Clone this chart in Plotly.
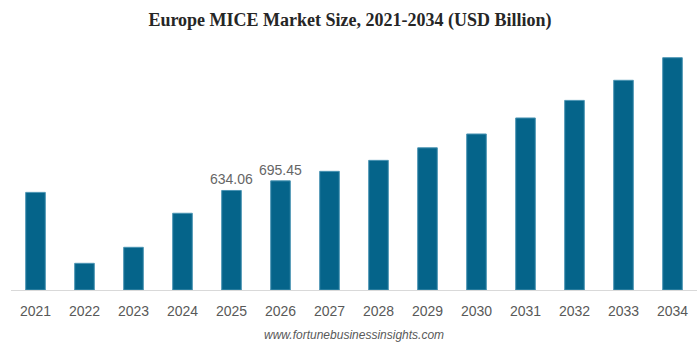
import plotly.graph_objects as go

years = ["2021", "2022", "2023", "2024", "2025", "2026", "2027",
         "2028", "2029", "2030", "2031", "2032", "2033", "2034"]
values = [622, 170, 272, 489, 634.06, 695.45, 756,
          826, 906, 994, 1096, 1208, 1336, 1480]
labels = ["", "", "", "", "634.06", "695.45", "", "", "", "", "", "", "", ""]

fig = go.Figure()
fig.add_trace(go.Bar(
    x=years, y=values, text=labels, textposition="outside",
    constraintext="none",
    textfont=dict(family="Liberation Sans, Arial", size=14, color="#666666"),
    marker=dict(color="#05648A", line=dict(color="#4A94B3", width=1)),
    width=0.4, cliponaxis=False, hoverinfo="skip",
))

fig.update_layout(
    width=700, height=348,
    margin=dict(l=11, r=3, t=45, b=58),
    paper_bgcolor="white", plot_bgcolor="white",
    showlegend=False,
    title=dict(
        text="<b>Europe MICE Market Size, 2021-2034 (USD Billion)</b>",
        font=dict(family="Liberation Serif, Times New Roman", size=18, color="#262626"),
        x=0.5, xanchor="center", xref="container",
        y=1 - 20 / 348, yanchor="middle", yref="container",
    ),
    xaxis=dict(
        showline=True, linecolor="#d9d9d9", linewidth=1,
        showgrid=False, ticks="", ticklabelstandoff=8,
        tickfont=dict(family="Liberation Sans, Arial", size=14, color="#595959"),
    ),
    yaxis=dict(range=[0, 1561], visible=False, showgrid=False),
    annotations=[dict(
        text="<i>www.fortunebusinessinsights.com</i>",
        x=0.5, xref="paper", xanchor="center",
        y=(290 - 335) / 245, yref="paper", yanchor="middle",
        showarrow=False,
        font=dict(family="Liberation Sans, Arial", size=12, color="#595959"),
    )],
)

fig.write_html("out.html")
